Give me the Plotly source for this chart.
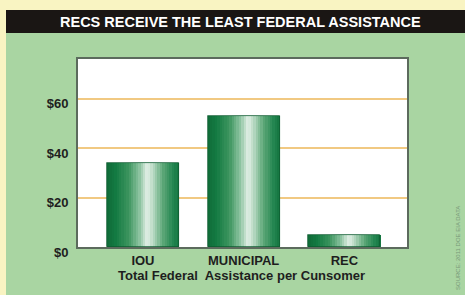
import plotly.graph_objects as go

categories = ["IOU", "MUNICIPAL", "REC"]
values = [34, 53, 5]
tick_vals = [0, 20, 40, 60]
tick_text = ["$0", "$20", "$40", "$60"]
title_text = "RECS RECEIVE THE LEAST FEDERAL ASSISTANCE"
x_title = "Total Federal\u00a0 Assistance per Cunsomer"
source_text = "SOURCE: 2011 DOE EIA DATA"

W, H = 465, 295
L, R, T, B = 78, 407, 59, 247  # plot area in pixels
pw, ph = R - L, B - T

def px(x):
    return (x - L) / pw

def py(y):
    return (B - y) / ph

stops = [
    (0.00, (0x0f, 0x6b, 0x38)),
    (0.12, (0x13, 0x7a, 0x42)),
    (0.30, (0x3d, 0x95, 0x5f)),
    (0.45, (0x8c, 0xc3, 0xa0)),
    (0.56, (0xe2, 0xef, 0xe6)),
    (0.64, (0xb7, 0xd9, 0xc2)),
    (0.78, (0x5a, 0xa6, 0x76)),
    (0.92, (0x23, 0x85, 0x50)),
    (1.00, (0x14, 0x74, 0x40)),
]

def grad(t):
    for (p0, c0), (p1, c1) in zip(stops[:-1], stops[1:]):
        if p0 <= t <= p1:
            f = (t - p0) / (p1 - p0) if p1 > p0 else 0
            c = [round(a + (b - a) * f) for a, b in zip(c0, c1)]
            return "rgb(%d,%d,%d)" % tuple(c)
    return "rgb(20,116,64)"

bar_w = 0.715
N = 30
sw = bar_w / N
fig = go.Figure()
for i in range(N):
    t = (i + 0.5) / N
    fig.add_trace(go.Bar(
        x=categories, y=values, width=sw * 1.08, offset=-bar_w / 2 + i * sw,
        marker=dict(color=grad(t), line=dict(width=0)),
        showlegend=False, hoverinfo="skip"))
fig.add_trace(go.Bar(
    x=categories, y=values, width=bar_w,
    marker=dict(color="rgba(0,0,0,0)", line=dict(width=0.8, color="#0c5a30")),
    showlegend=False, hoverinfo="skip"))

shapes = [
    dict(type="rect", xref="paper", yref="paper", x0=px(0), x1=px(W), y0=py(H), y1=py(0),
         fillcolor="#f9f4c2", line=dict(width=0), layer="below"),
    dict(type="rect", xref="paper", yref="paper", x0=px(6), x1=px(W), y0=py(H), y1=py(33),
         fillcolor="#a9d5a2", line=dict(width=0), layer="below"),
    dict(type="rect", xref="paper", yref="paper", x0=px(6), x1=px(W), y0=py(33), y1=py(10),
         fillcolor="#1a1614", line=dict(width=0), layer="below"),
    dict(type="rect", xref="paper", yref="paper", x0=px(L + 2), x1=px(R + 2), y0=py(B + 2), y1=py(T + 2),
         fillcolor="#7f9a80", line=dict(width=0), layer="below"),
    dict(type="rect", xref="paper", yref="paper", x0=0, x1=1, y0=0, y1=1,
         fillcolor="#ffffff", line=dict(width=0), layer="below"),
]

annotations = [
    dict(text=title_text, xref="paper", yref="paper", x=px(240), y=py(22),
         showarrow=False, xanchor="center", yanchor="middle",
         font=dict(family="Liberation Sans", size=14.5, color="#ffffff", weight="bold")),
    dict(text=x_title, xref="paper", yref="paper", x=px(241), y=py(275),
         showarrow=False, xanchor="center", yanchor="middle",
         font=dict(family="Liberation Sans", size=13, color="#1e1e1e", weight="bold")),
    dict(text=source_text, xref="paper", yref="paper", x=px(458), y=py(248),
         showarrow=False, xanchor="center", yanchor="middle", textangle=-90,
         font=dict(family="Liberation Sans", size=6, color="#789878")),
]

fig.update_layout(
    width=W, height=H,
    margin=dict(l=L, r=W - R, t=T, b=H - B, pad=0),
    paper_bgcolor="#f9f4c2", plot_bgcolor="rgba(0,0,0,0)",
    barmode="overlay", bargap=0,
    shapes=shapes, annotations=annotations,
    showlegend=False,
)
fig.update_xaxes(
    range=[-0.645, 2.622], showgrid=False, zeroline=False,
    showline=True, mirror=True, linecolor="#5c6b5d", linewidth=2,
    ticks="", tickfont=dict(family="Liberation Sans", size=13, color="#1e1e1e", weight="bold"),
)
fig.update_yaxes(
    range=[0, 76], tickvals=tick_vals, ticktext=tick_text,
    showgrid=True, gridcolor="#f1c982", gridwidth=2, zeroline=False,
    showline=True, mirror=True, linecolor="#5c6b5d", linewidth=2,
    ticks="", ticklabelstandoff=5, ticklabelshift=5,
    tickfont=dict(family="Liberation Sans", size=13, color="#1e1e1e", weight="bold"),
)

fig.write_html("out.html", config={"displayModeBar": False},
               post_script="document.body.style.margin='0';document.body.style.overflow='hidden';")
